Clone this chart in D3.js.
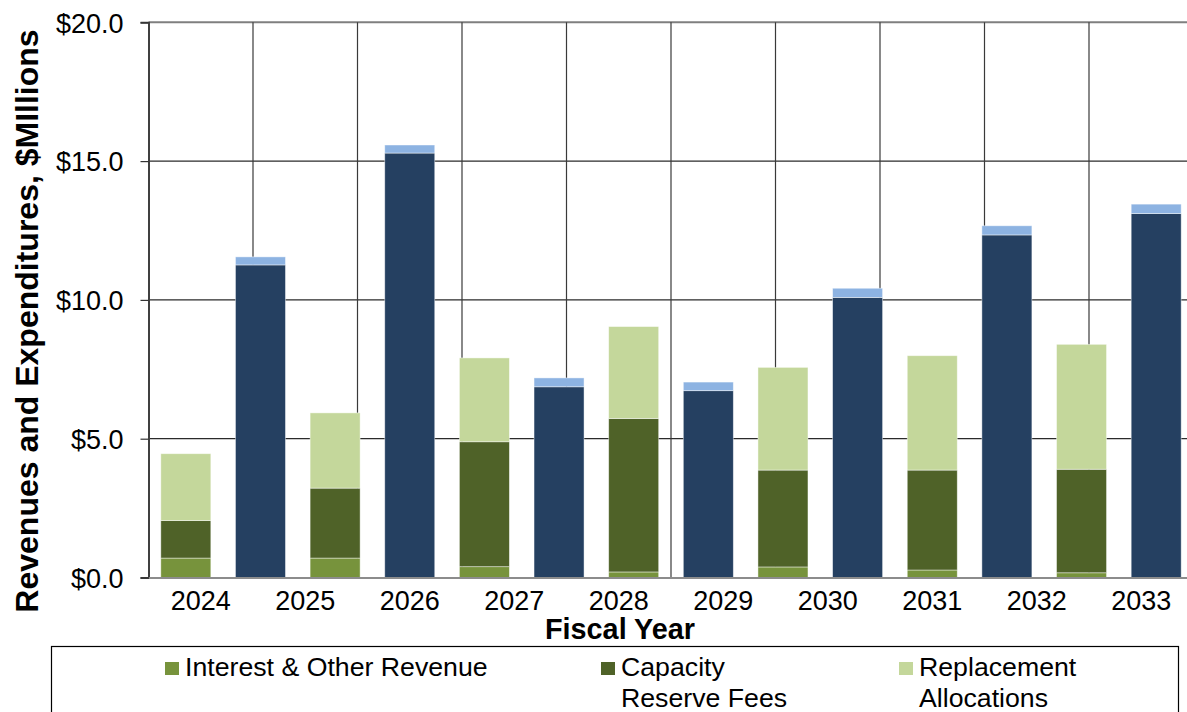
<!DOCTYPE html>
<html>
<head>
<meta charset="utf-8">
<script src="https://cdn.jsdelivr.net/npm/d3@7/dist/d3.min.js"></script>
<style>
  html, body { margin: 0; padding: 0; background: #fff; }
  svg { display: block; }
  text { font-family: "Liberation Sans", Arial, sans-serif; fill: #000; }
</style>
</head>
<body>
<svg id="chart" width="1187" height="712"></svg>
<script>
// Fiscal-year labels along the category axis
const years = ["2024", "2025", "2026", "2027", "2028", "2029", "2030", "2031", "2032", "2033"];

// Revenue stacks ($ millions), one per period
const interestOther = [0.70, 0.70, 0.39, 0.20, 0.38, 0.27, 0.17];
const capacityReserveFees = [1.35, 2.52, 4.50, 5.53, 3.49, 3.60, 3.73];
const replacementAllocations = [2.41, 2.71, 3.02, 3.31, 3.70, 4.12, 4.50];

// Expenditure stacks ($ millions), one per period
const expenditureMain = [11.26, 15.29, 6.87, 6.73, 10.09, 12.34, 13.11];
const expenditureOther = [0.29, 0.29, 0.32, 0.31, 0.33, 0.33, 0.34];

// Value axis ticks
const yTicks = [0, 5, 10, 15, 20];

// Legend entries shown below the chart
const legendLabels = [["Interest & Other Revenue"], ["Capacity", "Reserve Fees"], ["Replacement", "Allocations"]];

const colors = {
  interest: "#77933C",
  capacity: "#4F6228",
  replacement: "#C4D79B",
  expMain: "#254061",
  expOther: "#8DB3E2"
};

const svg = d3.select("#chart");
const plot = { left: 148.5, right: 1193.5, top: 22.3, bottom: 577.5 };

const y = d3.scaleLinear().domain([0, 20]).range([plot.bottom, plot.top]);

// Year bands (labels and vertical gridlines)
const xYear = d3.scaleBand().domain(years).range([plot.left, plot.right]).padding(0);

// Bar slots: revenue and expenditure columns alternate
const slots = d3.range(interestOther.length * 2);
const xSlot = d3.scaleBand().domain(slots).range([plot.left, plot.right])
  .paddingInner(0.33).paddingOuter(0.165);

// Build stacked rows
const revenueRows = interestOther.map((v, i) => ({
  slot: i * 2,
  interest: v,
  capacity: capacityReserveFees[i],
  replacement: replacementAllocations[i]
}));
const expenditureRows = expenditureMain.map((v, i) => ({
  slot: i * 2 + 1,
  expMain: v,
  expOther: expenditureOther[i]
}));

const revStack = d3.stack().keys(["interest", "capacity", "replacement"])(revenueRows);
const expStack = d3.stack().keys(["expMain", "expOther"])(expenditureRows);

// Horizontal gridlines
const grid = svg.append("g");
grid.selectAll("line.h").data(yTicks.filter(t => t > 0)).join("line")
  .attr("x1", plot.left).attr("x2", plot.right)
  .attr("y1", d => y(d)).attr("y2", d => y(d))
  .attr("stroke", d => d === 20 ? "#7f7f7f" : "#2b2b2b")
  .attr("stroke-width", d => d === 20 ? 2 : 1.2);

// Vertical gridlines at year boundaries
grid.selectAll("line.v").data(years.slice(1)).join("line")
  .attr("x1", d => xYear(d)).attr("x2", d => xYear(d))
  .attr("y1", plot.top).attr("y2", plot.bottom)
  .attr("stroke", "#3a3a3a")
  .attr("stroke-width", 1.2);

// Bars
const drawStack = (stack) => {
  svg.append("g").selectAll("g").data(stack).join("g")
    .attr("fill", d => colors[d.key])
    .selectAll("rect").data(d => d).join("rect")
    .attr("x", d => xSlot(d.data.slot))
    .attr("width", xSlot.bandwidth())
    .attr("y", d => y(d[1]))
    .attr("height", d => y(d[0]) - y(d[1]))
    .attr("stroke", "rgba(255,255,255,0.55)")
    .attr("stroke-width", 0.8);
};
drawStack(revStack);
drawStack(expStack);

// Value axis
const yAxis = svg.append("g").attr("transform", `translate(${plot.left},0)`)
  .call(d3.axisLeft(y).tickValues(yTicks).tickSize(8).tickPadding(17)
    .tickFormat(d => "$" + d3.format(".1f")(d)));
yAxis.select(".domain").attr("stroke", "#404040").attr("stroke-width", 2);
yAxis.selectAll(".tick line").attr("stroke", "#333").attr("stroke-width", 1.2);
yAxis.selectAll(".tick text")
  .attr("font-size", 27)
  .attr("font-family", "'Liberation Sans', Arial, sans-serif")
  .attr("dy", "0.36em");

// Category axis
const xAxis = svg.append("g").attr("transform", `translate(0,${plot.bottom})`)
  .call(d3.axisBottom(xYear).tickSize(0).tickPadding(0));
xAxis.select(".domain").attr("stroke", "#8c8c8c").attr("stroke-width", 2.2);
xAxis.selectAll(".tick text")
  .attr("font-size", 27)
  .attr("font-family", "'Liberation Sans', Arial, sans-serif")
  .attr("y", 32.5).attr("dy", 0);

// Axis titles
svg.append("text")
  .attr("x", 620).attr("y", 639)
  .attr("text-anchor", "middle")
  .attr("font-size", 28.8).attr("font-weight", "bold")
  .text("Fiscal Year");

svg.append("text")
  .attr("transform", "translate(37.5,321) rotate(-90)")
  .attr("text-anchor", "middle")
  .attr("font-size", 32).attr("font-weight", "bold")
  .text("Revenues and Expenditures, $MIllions");

// Legend
svg.append("rect")
  .attr("x", 51.5).attr("y", 646.5).attr("width", 1127).attr("height", 80)
  .attr("fill", "none").attr("stroke", "#000").attr("stroke-width", 1.2);

const legendKeys = ["interest", "capacity", "replacement"];
const legendX = [165, 601, 899];
const legend = svg.append("g").selectAll("g").data(legendKeys).join("g")
  .attr("transform", (d, i) => `translate(${legendX[i]},0)`);
legend.append("rect")
  .attr("x", 0).attr("y", 662).attr("width", 14).attr("height", 13)
  .attr("fill", d => colors[d]);
legend.append("text")
  .attr("font-size", 26.7)
  .selectAll("tspan").data((d, i) => legendLabels[i]).join("tspan")
  .attr("x", 20).attr("y", (d, j) => 675.5 + j * 31)
  .text(d => d);
</script>
</body>
</html>
